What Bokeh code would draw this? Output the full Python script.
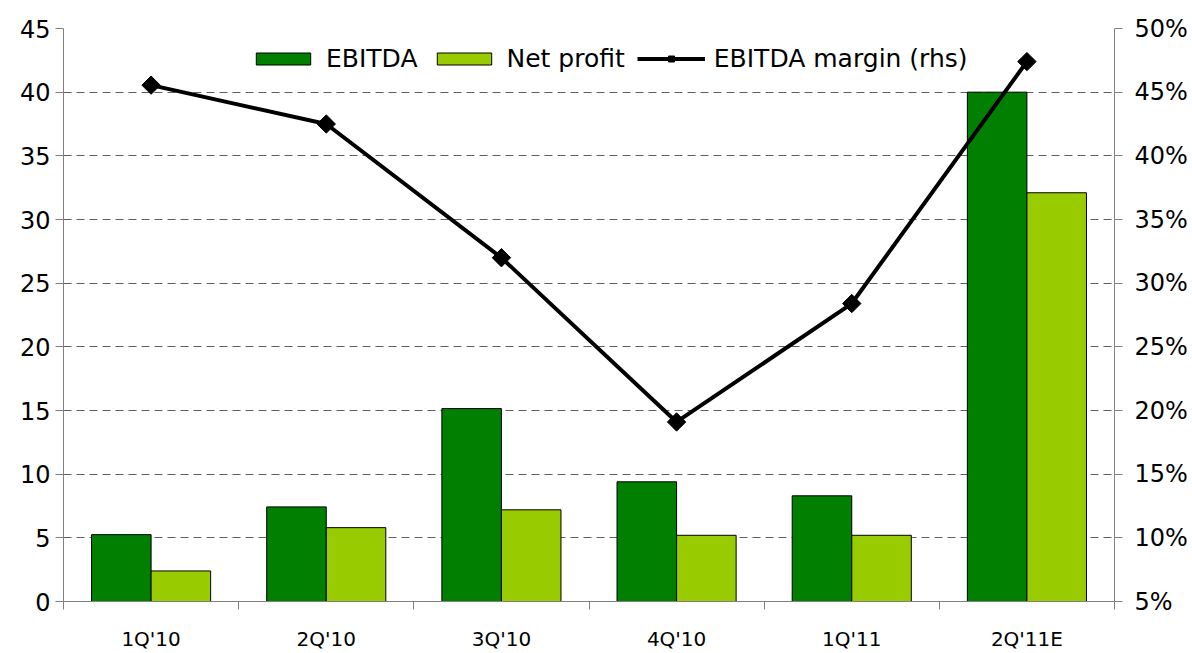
from bokeh.plotting import figure
from bokeh.models import (Range1d, LinearAxis, FixedTicker, Legend, LegendItem,
                          ColumnDataSource, CustomJSTickFormatter)
from bokeh.embed import file_html
from bokeh.resources import INLINE
import math

categories = ["1Q'10", "2Q'10", "3Q'10", "4Q'10", "1Q'11", "2Q'11E"]
ebitda = [5.25, 7.43, 15.15, 9.4, 8.3, 40.0]
net_profit = [2.4, 5.8, 7.2, 5.2, 5.2, 32.1]
ebitda_margin = [45.55, 42.5, 32.0, 19.1, 28.4, 47.4]  # percent, rhs

left_ticks = list(range(0, 46, 5))
right_ticks = list(range(5, 51, 5))

FONT = "DejaVu Sans"
TXT = "#000000"
AX = "#808080"

idx = list(range(len(categories)))
centers = [i + 0.5 for i in idx]
src = ColumnDataSource(dict(
    c=centers,
    xe=[c - 0.17 for c in centers],
    xn=[c + 0.17 for c in centers],
    e=ebitda, n=net_profit, m=ebitda_margin,
))

p = figure(width=1192, height=653, output_backend="svg", toolbar_location=None,
           x_range=Range1d(0, 6), y_range=Range1d(0, 45),
           min_border_left=63, min_border_right=78, min_border_top=28,
           min_border_bottom=47, outline_line_color=None)
p.background_fill_color = "white"
p.border_fill_color = "white"

p.extra_y_ranges = {"pct": Range1d(5, 50)}

r_e = p.vbar(x="xe", top="e", width=0.34, source=src, fill_color="#007F00",
             line_color="#000000", line_width=1)
r_n = p.vbar(x="xn", top="n", width=0.34, source=src, fill_color="#99CC00",
             line_color="#000000", line_width=1)
r_l = p.line(x="c", y="m", source=src, y_range_name="pct", line_color="#000000",
             line_width=4)
r_s = p.scatter(x="c", y="m", source=src, y_range_name="pct", marker="square",
                angle=math.pi / 4, size=13, fill_color="#000000",
                line_color="#000000")

# x axis
xa = p.xaxis[0]
xa.ticker = FixedTicker(ticks=centers, minor_ticks=list(range(0, 7)))
xa.major_label_overrides = {c: cat for c, cat in zip(centers, categories)}
xa.major_tick_out = 0
xa.major_tick_in = 0
xa.minor_tick_out = 8
xa.minor_tick_in = 0
xa.minor_tick_line_color = AX
xa.axis_line_color = AX
xa.major_label_text_font = FONT
xa.major_label_text_font_size = "20px"
xa.major_label_text_color = TXT
xa.major_label_standoff = 17

# left axis
ya = p.yaxis[0]
ya.ticker = FixedTicker(ticks=left_ticks)
ya.minor_tick_line_color = None
ya.major_tick_out = 8
ya.major_tick_in = 0
ya.major_tick_line_color = AX
ya.axis_line_color = AX
ya.major_label_text_font = FONT
ya.major_label_text_font_size = "24px"
ya.major_label_text_color = TXT
ya.major_label_standoff = 5

# right axis
ra = LinearAxis(y_range_name="pct", ticker=FixedTicker(ticks=right_ticks),
                formatter=CustomJSTickFormatter(code="return tick + '%';"))
ra.minor_tick_line_color = None
ra.major_tick_out = 8
ra.major_tick_in = 0
ra.major_tick_line_color = AX
ra.axis_line_color = AX
ra.major_label_text_font = FONT
ra.major_label_text_font_size = "24px"
ra.major_label_text_color = TXT
ra.major_label_standoff = 12
p.add_layout(ra, "right")

p.xgrid.grid_line_color = None
p.ygrid.ticker = FixedTicker(ticks=left_ticks[1:])
p.ygrid.grid_line_color = "#606060"
p.ygrid.grid_line_dash = "8 5"
p.ygrid.grid_line_width = 1

legend = Legend(items=[
    LegendItem(label="EBITDA", renderers=[r_e]),
    LegendItem(label="Net profit", renderers=[r_n]),
    LegendItem(label="EBITDA margin (rhs)", renderers=[r_l, r_s]),
], orientation="horizontal", location=(186, 528))
legend.border_line_color = None
legend.background_fill_alpha = 0
legend.label_text_font = FONT
legend.label_text_font_size = "25px"
legend.label_text_color = TXT
legend.glyph_width = 68
legend.glyph_height = 15
legend.label_standoff = 9
legend.spacing = 12
legend.padding = 0
legend.margin = 0
p.add_layout(legend)

open("out.html", "w").write(file_html(p, INLINE))
